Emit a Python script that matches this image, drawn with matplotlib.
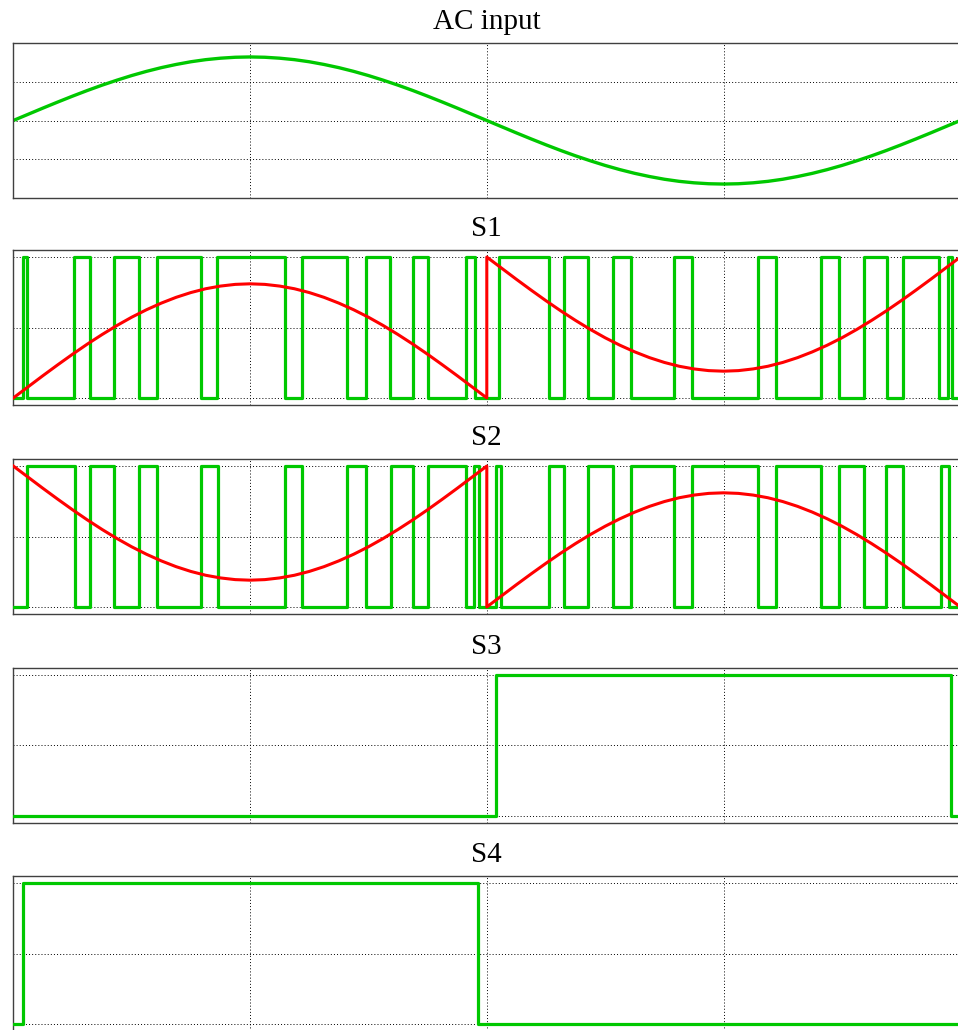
#!/usr/bin/env python3
"""Unipolar SPWM gate signals: AC input and switch signals S1-S4."""

import matplotlib

matplotlib.use("Agg")
import matplotlib.pyplot as plt
import numpy as np

GREEN = "#00c800"
RED = "#ff0000"
SPINE = "#404040"

# time axis in ms (one 50 Hz cycle), grid every 5 ms
T_END = 20.0
GRID_TICKS = [0, 5, 10, 15, 20]
REF_STEP = 0.3125  # sample spacing of the smooth curves, ms

ac_input = [
    0.000, 0.080, 0.160, 0.238, 0.314, 0.387, 0.456, 0.520, 0.580, 0.634, 0.682, 0.723, 0.758,
    0.785, 0.804, 0.816, 0.820, 0.816, 0.804, 0.785, 0.758, 0.723, 0.682, 0.634, 0.580, 0.520,
    0.456, 0.387, 0.314, 0.238, 0.160, 0.080, 0.000,
    -0.080, -0.160, -0.238, -0.314, -0.387, -0.456, -0.520, -0.580, -0.634, -0.682, -0.723, -0.758,
    -0.785, -0.804, -0.816, -0.820, -0.816, -0.804, -0.785, -0.758, -0.723, -0.682, -0.634, -0.580,
    -0.520, -0.456, -0.387, -0.314, -0.238, -0.160, -0.080, 0.000,
]

# reference (red) curves, each half-cycle sampled every REF_STEP ms
hump = [
    0.000, 0.079, 0.158, 0.235, 0.310, 0.382, 0.450, 0.514, 0.573, 0.626, 0.673, 0.714, 0.748,
    0.775, 0.794, 0.806, 0.810, 0.806, 0.794, 0.775, 0.748, 0.714, 0.673, 0.626, 0.573, 0.514,
    0.450, 0.382, 0.310, 0.235, 0.158, 0.079, 0.000,
]
dip = [
    1.000, 0.921, 0.842, 0.765, 0.690, 0.618, 0.550, 0.486, 0.427, 0.374, 0.327, 0.286, 0.252,
    0.225, 0.206, 0.194, 0.190, 0.194, 0.206, 0.225, 0.252, 0.286, 0.327, 0.374, 0.427, 0.486,
    0.550, 0.618, 0.690, 0.765, 0.842, 0.921, 1.000,
]
s1_ref = (hump, dip)
s2_ref = (dip, hump)

# switching instants (ms); every edge toggles the gate level
s1_start = 0
s1_edges = [
    0.20, 0.28, 1.28, 1.61, 2.13, 2.65, 3.04, 3.96, 4.31, 5.74, 6.09, 7.04, 7.44, 7.96, 8.45, 8.76,
    9.56, 9.75, 10.26, 11.31, 11.62, 12.13, 12.66, 13.05, 13.96, 14.33, 15.73, 16.10, 17.06, 17.44,
    17.97, 18.45, 18.78, 19.56, 19.74, 19.82,
]
s2_start = 0
s2_edges = [
    0.28, 1.30, 1.61, 2.13, 2.65, 3.04, 3.96, 4.33, 5.74, 6.09, 7.04, 7.44, 7.97, 8.45, 8.76, 9.56,
    9.74, 9.84, 10.19, 10.29, 11.31, 11.63, 12.13, 12.66, 13.05, 13.96, 14.33, 15.73, 16.10, 17.06,
    17.44, 17.97, 18.44, 18.79, 19.59, 19.76,
]
s3_start = 0
s3_edges = [10.19, 19.81]
s4_start = 0
s4_edges = [0.20, 9.82]


def gate_trace(start, edges):
    times = [0.0] + list(edges) + [T_END]
    levels = [(start + i) % 2 for i in range(len(edges) + 1)]
    levels.append(levels[-1])
    return times, levels


def ref_trace(first, second):
    t1 = np.arange(len(first)) * REF_STEP
    t2 = T_END / 2 + np.arange(len(second)) * REF_STEP
    return np.concatenate([t1, t2]), np.concatenate([first, second])


def style_axis(ax, ylim, yticks):
    ax.set_xlim(0, T_END)
    ax.set_ylim(*ylim)
    ax.set_xticks(GRID_TICKS)
    ax.set_yticks(yticks)
    ax.tick_params(length=0, labelbottom=False, labelleft=False)
    ax.grid(True, color="black", linestyle=(0, (1, 2.2)), linewidth=0.7)
    for spine in ax.spines.values():
        spine.set_color(SPINE)
        spine.set_linewidth(1.0)
    ax.spines["right"].set_visible(False)


def main():
    plt.rcParams.update({"font.family": ["Liberation Serif", "DejaVu Serif"]})
    fig = plt.figure(figsize=(9.58, 10.30), dpi=100)

    left = 13.3 / 958
    width = (960.3 - 13.3) / 958
    height = 155 / 1030
    bottoms_px = [198, 405, 614, 822.7, 1031]
    titles = ["AC input", "S1", "S2", "S3", "S4"]
    axes = []
    for bottom_px, title in zip(bottoms_px, titles):
        ax = fig.add_axes([left, 1 - bottom_px / 1030, width, height])
        ax.set_title(title, fontsize=21, pad=10)
        axes.append(ax)

    t_ac = np.arange(len(ac_input)) * REF_STEP
    axes[0].plot(t_ac, ac_input, color=GREEN, linewidth=2.4, solid_joinstyle="round")
    style_axis(axes[0], (-1, 1), [-0.5, 0, 0.5])

    gate_ylim = (-0.05, 1.05)
    gate_ticks = [0, 0.5, 1]
    for ax, start, edges, ref in (
        (axes[1], s1_start, s1_edges, s1_ref),
        (axes[2], s2_start, s2_edges, s2_ref),
        (axes[3], s3_start, s3_edges, None),
        (axes[4], s4_start, s4_edges, None),
    ):
        times, levels = gate_trace(start, edges)
        ax.step(times, levels, where="post", color=GREEN, linewidth=2.3, zorder=3)
        if ref is not None:
            rt, rv = ref_trace(*ref)
            ax.plot(rt, rv, color=RED, linewidth=2.2, zorder=4, solid_joinstyle="round")
        style_axis(ax, gate_ylim, gate_ticks)

    fig.savefig("out.png", dpi=100, facecolor="white")
    plt.close(fig)


if __name__ == "__main__":
    main()
